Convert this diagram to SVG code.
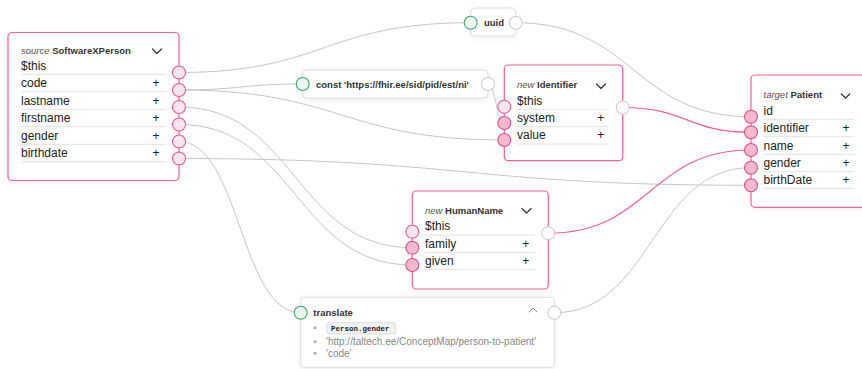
<svg xmlns="http://www.w3.org/2000/svg" width="862" height="369" viewBox="0 0 862 369">
  <defs>
    <filter id="glow" x="-20%" y="-20%" width="140%" height="140%">
      <feDropShadow dx="0" dy="1" stdDeviation="3" flood-color="#000" flood-opacity="0.08"/>
    </filter>
    <style>
      text { font-family: "Liberation Sans", Arial, sans-serif; fill: #222; }
      .box { fill: #fff; stroke: #ef6398; stroke-width: 1.2; filter: url(#glow); }
      .fn { fill: #fff; stroke: #dcdcdc; stroke-width: 1; filter: url(#glow); }
      .hd { font-size: 9.5px; }
      .kind { font-style: italic; fill: #555; }
      .name { font-weight: bold; fill: #333; }
      .row { font-size: 12px; }
      .plus { font-size: 12px; text-anchor: middle; }
      .sep { stroke: #e2e2e2; stroke-width: 1; }
      .chev { fill: none; stroke: #333; stroke-width: 1.2; stroke-linecap: round; stroke-linejoin: round; }
      .chev-up { fill: none; stroke: #888; stroke-width: 1; stroke-linecap: round; stroke-linejoin: round; }
      .fnt { font-size: 9.5px; font-weight: bold; fill: #333; }
      .p-src { fill: #fde6ef; stroke: #ea5b91; stroke-width: 1.1; }
      .p-tgt { fill: #f8b9cf; stroke: #d9508a; stroke-width: 1.1; }
      .p-in { fill: #eaf6ee; stroke: #3fa866; stroke-width: 1.1; }
      .p-out { fill: #fff; stroke: #cfcfcf; stroke-width: 1.1; }
      .e { fill: none; stroke: #c6c6c6; stroke-width: 1; }
      .ep { fill: none; stroke: #f06292; stroke-width: 1.2; }
      .li { font-size: 10px; fill: #888; }
      .dot { fill: #aaa; }
    </style>
  </defs>

  <!-- connectors -->
  <g id="edges">
    <path class="e" d="M179,72.5 C324.5,72.5 324.5,22.7 470.7,22.7"/>
    <path class="e" d="M179,90 C241,90 241,84 302.7,84"/>
    <path class="e" d="M179,90 C341.5,90 341.5,140 504.3,140"/>
    <path class="e" d="M179,107 C295.5,107 295.5,247.7 412.3,247.7"/>
    <path class="e" d="M179,124.5 C295.5,124.5 295.5,265 412.3,265"/>
    <path class="e" d="M179,141.5 C240,141.5 240,312.7 300.7,312.7"/>
    <path class="e" d="M179,158.5 C465,158.5 465,185.3 751,185.3"/>
    <path class="e" d="M488,84 C496,84 496,123 504.3,123"/>
    <path class="e" d="M515.7,22.7 C633.5,22.7 633.5,116.7 751,116.7"/>
    <path class="e" d="M554.3,312.7 C652.5,312.7 652.5,167.7 751,167.7"/>
    <path class="ep" d="M622.7,107.5 C687,107.5 687,132.3 751,132.3"/>
    <path class="ep" d="M548.3,233.3 C649.5,233.3 649.5,150 751,150"/>
  </g>

  <!-- source SoftwareXPerson -->
  <g id="source-SoftwareXPerson">
    <rect class="box" x="8" y="32.5" width="171" height="148" rx="4"/>
    <text class="hd" x="21" y="54.3"><tspan class="kind">source</tspan> <tspan class="name">SoftwareXPerson</tspan></text>
    <path class="chev" d="M152.5,49 L157,53.5 L161.5,49"/>
    <text class="row" x="21" y="69.6">$this</text>
    <text class="row" x="21" y="87">code</text>
    <text class="row" x="21" y="104.6">lastname</text>
    <text class="row" x="21" y="122">firstname</text>
    <text class="row" x="21" y="139.6">gender</text>
    <text class="row" x="21" y="157">birthdate</text>
    <text class="plus" x="156" y="87">+</text>
    <text class="plus" x="156" y="104.6">+</text>
    <text class="plus" x="156" y="122">+</text>
    <text class="plus" x="156" y="139.6">+</text>
    <text class="plus" x="156" y="157">+</text>
    <path class="sep" d="M21,74.3 H166 M21,91.7 H166 M21,109.3 H166 M21,126.7 H166 M21,144.3 H166 M21,161.7 H166"/>
    <circle class="p-src" cx="179" cy="72.5" r="6.5"/>
    <circle class="p-src" cx="179" cy="90" r="6.5"/>
    <circle class="p-src" cx="179" cy="107" r="6.5"/>
    <circle class="p-src" cx="179" cy="124.5" r="6.5"/>
    <circle class="p-src" cx="179" cy="141.5" r="6.5"/>
    <circle class="p-src" cx="179" cy="158.5" r="6.5"/>
  </g>

  <!-- uuid -->
  <g id="fn-uuid">
    <rect class="fn" x="470.7" y="8" width="45" height="28" rx="4"/>
    <text class="fnt" x="484" y="26">uuid</text>
    <circle class="p-in" cx="470.7" cy="22.7" r="6.5"/>
    <circle class="p-out" cx="515.7" cy="22.7" r="6.5"/>
  </g>

  <!-- const -->
  <g id="fn-const">
    <rect class="fn" x="302.7" y="70" width="185.3" height="28" rx="4"/>
    <text class="fnt" x="316" y="87.5">const 'https://fhir.ee/sid/pid/est/ni'</text>
    <circle class="p-in" cx="302.7" cy="84" r="6.5"/>
    <circle class="p-out" cx="488" cy="84" r="6.5"/>
  </g>

  <!-- new Identifier -->
  <g id="new-Identifier">
    <rect class="box" x="504.3" y="65" width="118.4" height="95.7" rx="4"/>
    <text class="hd" x="517" y="88"><tspan class="kind">new</tspan> <tspan class="name">Identifier</tspan></text>
    <path class="chev" d="M596.5,84 L601,88.5 L605.5,84"/>
    <text class="row" x="517" y="104.6">$this</text>
    <text class="row" x="517" y="122">system</text>
    <text class="row" x="517" y="139.3">value</text>
    <text class="plus" x="600.7" y="122">+</text>
    <text class="plus" x="600.7" y="139.3">+</text>
    <path class="sep" d="M517,109.3 H608 M517,126.7 H608 M517,144 H608"/>
    <circle class="p-src" cx="504.3" cy="106.7" r="6.5"/>
    <circle class="p-tgt" cx="504.3" cy="123" r="6.5"/>
    <circle class="p-tgt" cx="504.3" cy="140" r="6.5"/>
    <circle class="p-out" cx="622.7" cy="107.5" r="6.5"/>
  </g>

  <!-- new HumanName -->
  <g id="new-HumanName">
    <rect class="box" x="412.3" y="191" width="136" height="98" rx="4"/>
    <text class="hd" x="425" y="213.5"><tspan class="kind">new</tspan> <tspan class="name">HumanName</tspan></text>
    <path class="chev" d="M522,208.5 L526.5,213 L531,208.5"/>
    <text class="row" x="425" y="230.3">$this</text>
    <text class="row" x="425" y="247.6">family</text>
    <text class="row" x="425" y="264.6">given</text>
    <text class="plus" x="525.7" y="247.6">+</text>
    <text class="plus" x="525.7" y="264.6">+</text>
    <path class="sep" d="M425,235 H535 M425,252.3 H535 M425,269.3 H535"/>
    <circle class="p-src" cx="412.3" cy="231.7" r="6.5"/>
    <circle class="p-tgt" cx="412.3" cy="247.7" r="6.5"/>
    <circle class="p-tgt" cx="412.3" cy="265" r="6.5"/>
    <circle class="p-out" cx="548.3" cy="233.3" r="6.5"/>
  </g>

  <!-- translate -->
  <g id="fn-translate">
    <rect class="fn" x="300.7" y="297.3" width="253.6" height="70" rx="4"/>
    <text class="fnt" x="313.3" y="316">translate</text>
    <path class="chev-up" d="M529,312 L533,308 L537,312"/>
    <circle class="dot" cx="315" cy="327.7" r="1.5"/>
    <circle class="dot" cx="315" cy="341.7" r="1.5"/>
    <circle class="dot" cx="315" cy="353.3" r="1.5"/>
    <rect x="326.7" y="322.7" width="69" height="11.3" rx="2.5" fill="#f1f1f1" stroke="#d6d6d6" stroke-width="0.8"/>
    <text x="331" y="331.2" font-family="Liberation Mono, Courier New, monospace" font-size="7.5" font-weight="bold" fill="#666" style="font-family:'Liberation Mono','Courier New',monospace">Person.gender</text>
    <text class="li" x="326" y="345">'http://taltech.ee/ConceptMap/person-to-patient'</text>
    <text class="li" x="326" y="356.5">'code'</text>
    <circle class="p-in" cx="300.7" cy="312.7" r="6.5"/>
    <circle class="p-out" cx="554.3" cy="312.7" r="6.5"/>
  </g>

  <!-- target Patient -->
  <g id="target-Patient">
    <rect class="box" x="751" y="75" width="124" height="132.3" rx="4"/>
    <text class="hd" x="763.5" y="97.5"><tspan class="kind">target</tspan> <tspan class="name">Patient</tspan></text>
    <path class="chev" d="M841.3,94 L845.5,98 L849.7,94"/>
    <text class="row" x="763.5" y="114.5">id</text>
    <text class="row" x="763.5" y="132">identifier</text>
    <text class="row" x="763.5" y="149.5">name</text>
    <text class="row" x="763.5" y="167">gender</text>
    <text class="row" x="763.5" y="184">birthDate</text>
    <text class="plus" x="846" y="132">+</text>
    <text class="plus" x="846" y="149.5">+</text>
    <text class="plus" x="846" y="167">+</text>
    <text class="plus" x="846" y="184">+</text>
    <path class="sep" d="M763.3,119.3 H854.3 M763.3,136.7 H854.3 M763.3,154.3 H854.3 M763.3,171.7 H854.3 M763.3,188.3 H854.3"/>
    <circle class="p-tgt" cx="751" cy="116.7" r="6.5"/>
    <circle class="p-tgt" cx="751" cy="132.3" r="6.5"/>
    <circle class="p-tgt" cx="751" cy="150" r="6.5"/>
    <circle class="p-tgt" cx="751" cy="167.7" r="6.5"/>
    <circle class="p-tgt" cx="751" cy="185.3" r="6.5"/>
  </g>
</svg>
